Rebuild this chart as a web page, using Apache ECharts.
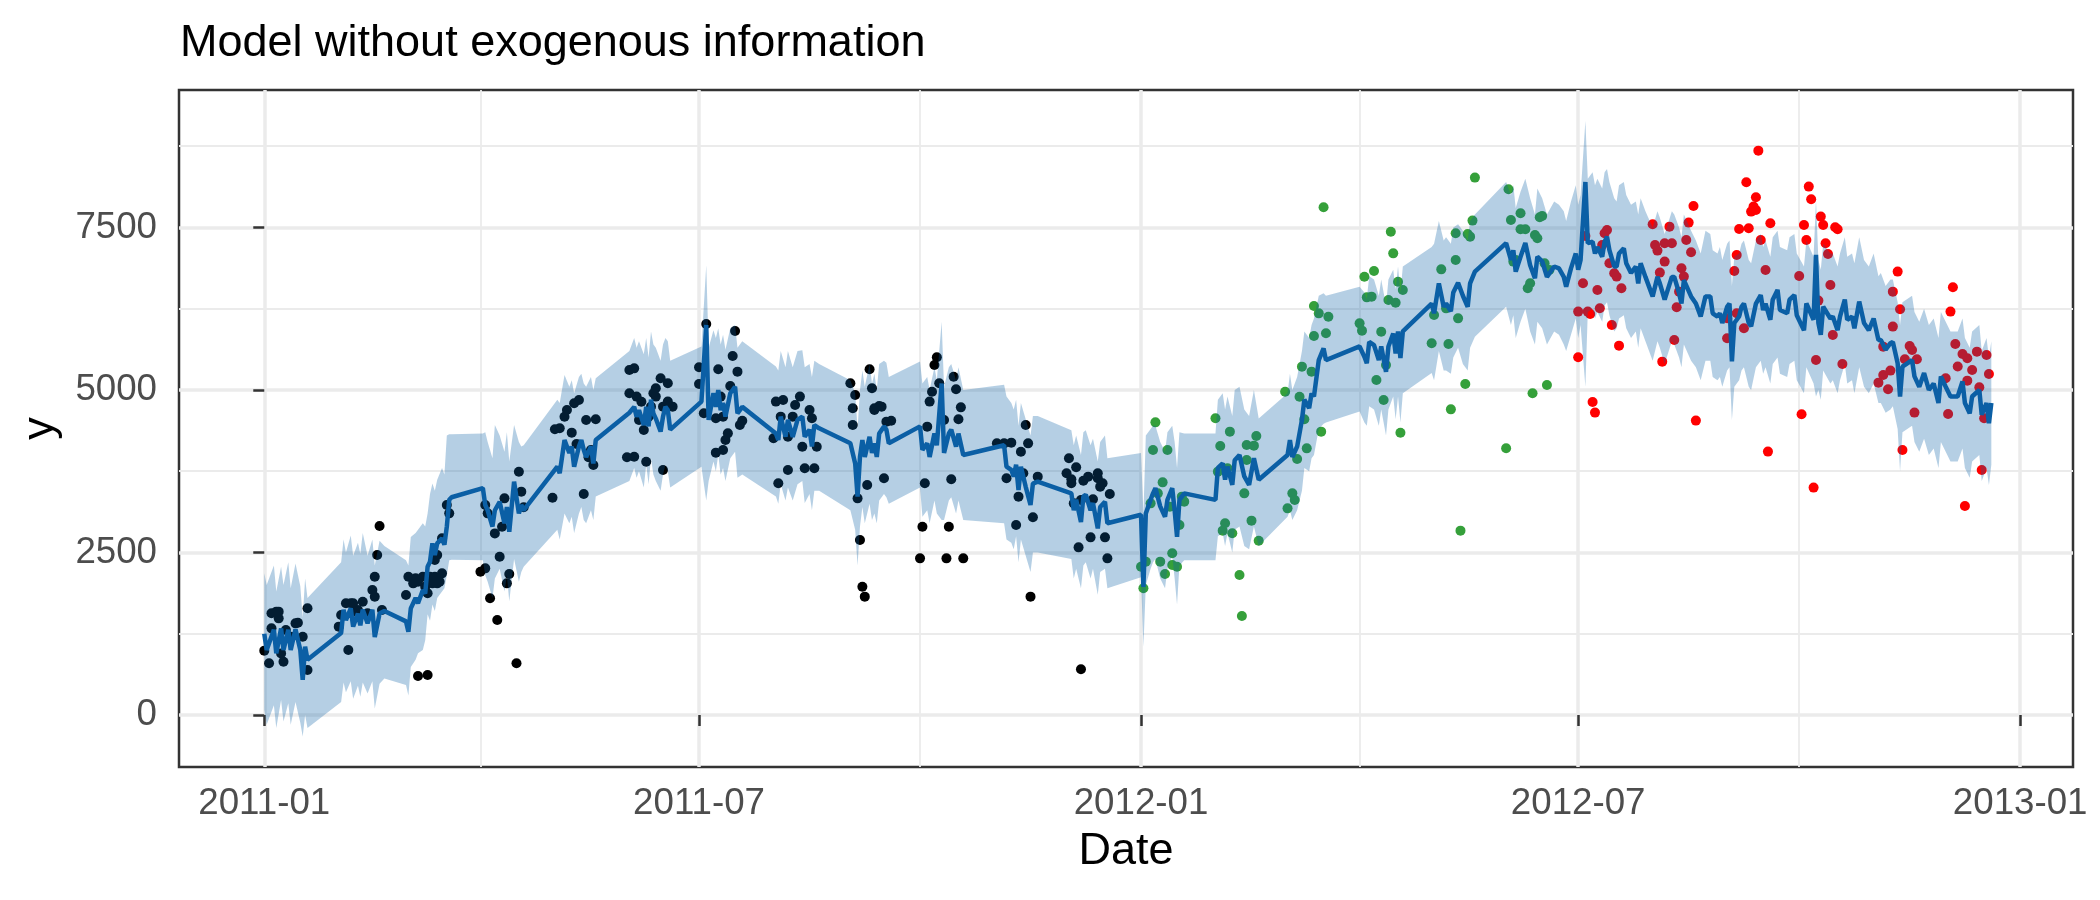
<!DOCTYPE html>
<html>
<head>
<meta charset="utf-8">
<title>Model without exogenous information</title>
<script src="https://cdn.jsdelivr.net/npm/echarts@6.0.0/dist/echarts.min.js"></script>
<style>
html, body { margin: 0; padding: 0; background: #ffffff; }
#chart { width: 2100px; height: 900px; }
</style>
</head>
<body>
<div id="chart"></div>
<script>
// x values are days counted from 2011-01-01

// fitted curve (yhat) with its uncertainty band
var fitDay = [
  0, 1, 4, 5, 7, 8, 10, 11, 13, 15, 16, 17, 18,
  32, 33, 34, 36, 37, 39, 40, 41, 43, 45, 46, 48, 50,
  59, 60, 61, 63, 64, 66, 67, 68, 69, 70, 71, 72, 74, 75, 76, 77, 78,
  91, 92, 93, 95, 96, 98, 100, 101, 102, 104, 106, 107, 108,
  122, 123, 125, 127, 128, 129, 131, 132, 133, 134, 136, 137, 138,
  152, 154, 155, 156, 158, 159, 160, 161, 162, 163, 165, 166, 167, 168, 169,
  182, 184, 185, 187, 188, 189, 190, 191, 192, 194, 196, 197, 199,
  213, 214, 215, 217, 218, 220, 222, 224, 225, 227, 228, 229, 231,
  244, 246, 247, 248, 249, 250, 252, 253, 254, 255, 256, 258, 259, 260,
  273, 274, 276, 277, 279, 280, 282, 283, 285, 286, 288, 289, 291,
  308, 309, 311, 312, 313, 314, 315, 317, 319, 320, 322,
  336, 337, 338, 340, 341, 342, 344, 345, 347, 348, 350, 351,
  365, 366, 367, 369, 370, 371, 373, 375, 376, 378, 379, 380, 381, 383,
  396, 397, 399, 400, 401, 403, 404, 406, 408, 410, 412, 414,
  426, 427, 428, 430, 432, 433, 435, 436, 437, 439, 441, 442,
  456, 458, 459, 460, 462, 464, 465, 467, 468, 470, 471, 472, 473, 474,
  486, 487, 489, 491, 492, 494, 495, 497, 499, 501, 502, 504,
  517, 519, 520, 521, 523, 525, 527, 529, 530, 532, 534, 537, 539, 541, 542, 544, 546, 547, 548,
  550, 551, 553, 554, 555, 557, 558, 559, 560, 562, 563, 564, 566, 567, 569, 571, 572, 573, 575,
  578, 580, 581, 583, 586, 587, 589, 590, 591, 594, 596, 598, 600, 602, 603, 605, 606, 607, 609, 610,
  611, 612, 614, 615, 616, 618, 619, 621, 623, 624, 625, 627, 628, 630, 631, 634, 635, 637, 638,
  641, 642, 645, 646, 647, 648, 649, 652, 653, 655, 656, 658, 659, 661, 662, 664, 666, 668, 670,
  672, 673, 675, 677, 678, 680, 681, 682, 686, 687, 689, 691, 693, 695, 697, 698, 700, 702,
  705, 707, 708, 710, 711, 714, 715, 717, 718, 719
];
var fitValue = [
  1250, 1000, 1310, 950, 1330, 1000, 1310, 1000, 1320, 1000, 540, 1050, 850,
  1260, 1620, 1460, 1640, 1360, 1560, 1380, 1620, 1410, 1620, 1200, 1560, 1600,
  1440, 1280, 1640, 1800, 1720, 1920, 1870, 2280, 2360, 2640, 2460, 2640, 2720, 2620, 2900, 3310, 3350,
  3490, 3230, 3150, 2900, 3150, 3280, 2950, 3200, 2820, 3590, 3100, 3230, 3150,
  3820, 3720, 4230, 4030, 4130, 3820, 4130, 4230, 4080, 3970, 4130, 3870, 4230,
  4650, 4740, 4590, 4690, 4460, 4740, 4440, 4850, 4640, 4560, 4360, 4590, 4740, 4690, 4390,
  4820, 6000, 4540, 4950, 4740, 5000, 4690, 4800, 4590, 4950, 5050, 4640, 4740,
  4330, 4230, 4590, 4280, 4540, 4280, 4540, 4590, 4280, 4390, 4130, 4460, 4410,
  4180, 3870, 3360, 3970, 4230, 3970, 4280, 4030, 4180, 3970, 4330, 4440, 4390, 4180,
  4440, 4080, 4180, 3970, 4330, 4150, 5100, 4030, 4330, 4390, 4130, 4330, 4000,
  4150, 3820, 3770, 3670, 3850, 3460, 3820, 3510, 3230, 3560, 3590,
  3410, 3150, 3310, 2970, 3360, 3390, 3150, 3260, 2870, 3200, 3280, 2950,
  3080, 1970, 3100, 3310, 3410, 3490, 3210, 3050, 3310, 3490, 3150, 2740, 3310, 3410,
  3310, 3800, 3870, 3620, 3820, 3540, 3920, 4000, 3670, 3540, 3950, 3620,
  4000, 4230, 3970, 4130, 4540, 4850, 4720, 4950, 4900, 5460, 5640, 5460,
  5670, 5510, 5410, 5740, 5690, 5460, 5670, 5280, 5670, 5870, 5560, 5900, 5490, 5900,
  6330, 6180, 6640, 6280, 6330, 6210, 6500, 6650, 6450, 6280, 6640, 6820,
  7260, 7000, 7150, 6820, 7050, 7260, 6920, 6720, 7050, 6980, 6740, 6900, 6870, 6740, 6590, 6870, 7100, 6850, 7000,
  8200, 7260, 7280, 7100, 7200, 7050, 7280, 7360, 7150, 6900, 6900, 7100, 7180, 6950, 6800, 6900, 6640, 6950, 6740,
  6440, 6740, 6640, 6390, 6740, 6740, 6490, 6330, 6690, 6440, 6330, 6130, 6440, 6440, 6180, 6130, 6180, 6030, 6280, 6330,
  5440, 6030, 6130, 6280, 6330, 6030, 5980, 6330, 6460, 6230, 6330, 6080, 6390, 6540, 6230, 6180, 6390, 6460, 6150,
  5920, 6330, 6080, 7080, 6030, 5850, 6280, 6100, 6130, 5920, 6130, 6390, 6080, 6130, 5950, 6360, 6030, 5920, 6100,
  5770, 5770, 5620, 5720, 5740, 5410, 4900, 5360, 5460, 5210, 5050, 5260, 5000, 5100, 4800, 5210, 5050, 4900,
  4900, 5130, 4800, 4640, 4900, 5000, 4620, 4800, 4490, 4800
];
var fitLower = [
  80, -150, 150, -200, 230, -100, 180, -150, 200, -120, -330, 0, -200,
  200, 500, 350, 520, 250, 450, 280, 500, 330, 520, 100, 480, 560,
  460, 300, 740, 850, 950, 1000, 1150, 1550, 1450, 1700, 1600, 1800, 1900, 1950, 2150, 2380, 2390,
  2380, 2150, 2050, 1800, 2100, 2250, 1900, 2150, 1750, 2400, 2050, 2200, 2280,
  2850, 2700, 3100, 2950, 3050, 2800, 3100, 3200, 3000, 2950, 3150, 3000, 3360,
  3600, 3800, 3650, 3750, 3500, 3850, 3550, 3950, 3700, 3600, 3450, 3700, 3850, 3750, 3500,
  3820, 3300, 3600, 3900, 3750, 4000, 3700, 3800, 3600, 3950, 4050, 3650, 3700,
  3360, 3250, 3550, 3300, 3500, 3300, 3550, 3600, 3260, 3400, 3150, 3450, 3450,
  3150, 2850, 2300, 2900, 3200, 2950, 3250, 3000, 3100, 2950, 3300, 3400, 3350, 3250,
  3500, 3050, 3150, 2950, 3300, 3100, 3000, 3000, 3300, 3350, 3100, 3300, 3000,
  2950, 2700, 2650, 2550, 2750, 2350, 2700, 2450, 2200, 2500, 2500,
  2400, 2100, 2250, 1950, 2300, 2350, 2100, 2250, 1850, 2200, 2250, 1950,
  2120, 1050, 2000, 2250, 2350, 2400, 2100, 1950, 2250, 2450, 2100, 1700, 2300, 2380,
  2380, 2750, 2800, 2600, 2800, 2500, 2850, 2900, 2600, 2550, 2900, 2600,
  3050, 3150, 3000, 3150, 3450, 3800, 3750, 3950, 4000, 4400, 4480, 4500,
  4670, 4500, 4450, 4750, 4700, 4450, 4700, 4300, 4700, 4900, 4550, 4900, 4500, 4950,
  5260, 5150, 5600, 5300, 5300, 5250, 5500, 5650, 5400, 5300, 5650, 5820,
  6280, 6000, 6150, 5800, 6050, 6250, 5900, 5700, 6050, 5950, 5700, 5900, 5850, 5700, 5600, 5850, 6100, 5800, 6000,
  5050, 6200, 6250, 6100, 6200, 6050, 6300, 6350, 6150, 5900, 5950, 6100, 6150, 5950, 5800, 5900, 5650, 5950, 5750,
  5450, 5750, 5650, 5400, 5750, 5700, 5500, 5350, 5700, 5450, 5350, 5150, 5450, 5450, 5200, 5150, 5200, 5050, 5300, 5350,
  4540, 5050, 5150, 5300, 5350, 5050, 5000, 5350, 5450, 5250, 5350, 5100, 5400, 5500, 5250, 5200, 5400, 5450, 5150,
  4950, 5350, 5100, 4900, 5000, 4850, 5300, 5100, 5150, 4950, 5150, 5400, 5100, 5150, 4950, 5350, 5050, 4950, 5100,
  4800, 4800, 4650, 4700, 4750, 4400, 3750, 4350, 4450, 4200, 4050, 4250, 4000, 4100, 3800, 4200, 4050, 3900,
  3900, 4100, 3800, 3650, 3900, 4000, 3600, 3800, 3540, 3850
];
var fitUpper = [
  2180, 2000, 2300, 1900, 2280, 2000, 2350, 1950, 2330, 1980, 1500, 2100, 1800,
  2350, 2700, 2500, 2760, 2450, 2650, 2480, 2800, 2450, 2700, 2300, 2680, 2600,
  2380, 2300, 2740, 2800, 2850, 2950, 2900, 3100, 3400, 3560, 3450, 3620, 3800, 3700, 4300, 4320, 4320,
  4330, 4350, 4200, 3950, 4460, 4300, 4050, 4350, 3900, 4460, 4200, 4130, 4150,
  4850, 4800, 5230, 5050, 5150, 4950, 5200, 5250, 5100, 5050, 5200, 5000, 5180,
  5600, 5800, 5650, 5750, 5550, 5800, 5500, 5900, 5700, 5650, 5450, 5700, 5800, 5750, 5450,
  5670, 6920, 5650, 5920, 5800, 5950, 5700, 5850, 5620, 5950, 6000, 5650, 5750,
  5360, 5300, 5600, 5350, 5600, 5350, 5600, 5610, 5350, 5400, 5200, 5450, 5400,
  5150, 4950, 4400, 5000, 5300, 5050, 5400, 5100, 5250, 5000, 5400, 5450, 5420, 5200,
  5440, 5100, 5200, 5000, 5350, 5150, 6050, 5050, 5350, 5400, 5150, 5350, 5000,
  5080, 4900, 4800, 4700, 4850, 4450, 4800, 4550, 4300, 4600, 4600,
  4380, 4150, 4300, 4000, 4350, 4380, 4150, 4250, 3900, 4200, 4300, 3950,
  4030, 3100, 4300, 4400, 4450, 4450, 4200, 4050, 4350, 4450, 4200, 3800, 4350, 4330,
  4330, 4850, 4950, 4700, 4900, 4600, 5000, 5050, 4700, 4600, 5000, 4560,
  4950, 5250, 5000, 5200, 5600, 5900, 5800, 6000, 6100, 6450, 6490, 6450,
  6590, 6500, 6400, 6750, 6700, 6450, 6700, 6300, 6700, 6850, 6550, 6900, 6500, 6900,
  7200, 7250, 7600, 7300, 7350, 7250, 7500, 7550, 7450, 7300, 7600, 7700,
  8200, 8000, 8150, 7800, 8050, 8250, 7950, 7700, 8100, 7950, 7700, 7900, 7850, 7750, 7600, 7900, 8150, 7850, 8000,
  9140, 8250, 8350, 8150, 8250, 8100, 8350, 8400, 8200, 7950, 7900, 8150, 8200, 8000, 7850, 7900, 7700, 7950, 7750,
  7500, 7750, 7650, 7400, 7750, 7700, 7500, 7350, 7700, 7450, 7300, 7100, 7450, 7400, 7150, 7100, 7200, 7000, 7250, 7300,
  6600, 7050, 7100, 7250, 7300, 7000, 6950, 7300, 7400, 7200, 7300, 7050, 7350, 7450, 7200, 7150, 7350, 7400, 7100,
  6900, 7300, 7050, 7920, 7000, 6850, 7250, 7100, 7100, 6900, 7100, 7350, 7050, 7100, 6950, 7350, 7000, 6900, 7100,
  6750, 6800, 6600, 6700, 6700, 6350, 6000, 6350, 6450, 6200, 6050, 6250, 6000, 6100, 5800, 6200, 6050, 5900,
  5900, 6100, 5800, 5650, 5900, 6000, 5600, 5800, 5500, 5750
];

// observed counts: [day, value]
var trainPoints = [
  [0,990],[2,795],[3,1333],[3,1564],[5,1590],[6,1590],[6,1487],[7,948],[8,820],[9,1307],[11,1205],[13,1410],[14,1420],[16,1205],[18,692],[18,1641],
  [31,1359],[32,1538],[34,1718],[35,1000],[36,1718],[37,1718],[38,1590],[39,1615],[41,1743],[43,1564],[45,1923],[46,1820],[46,2128],[47,2461],[48,2907],[49,1615],
  [59,1846],[60,2128],[62,2025],[63,2102],[64,2051],[64,600],[66,2128],[67,1974],[68,1872],[68,615],[69,2128],[70,2025],[71,2128],[71,2384],[72,2025],[72,2461],[73,2051],[74,2179],[74,2718],[76,3230],[77,3102],
  [90,2205],[92,2256],[92,3230],[93,3102],[94,1795],[96,2794],[97,1461],[98,2435],[99,2897],[100,3333],[101,2025],[102,2169],[105,795],[106,3743],[107,3436],[108,3195],
  [120,3343],[121,4395],[123,4410],[125,4589],[126,4692],[128,4344],[129,4795],[130,4169],[131,4846],[133,3400],[134,4538],[135,3964],[136,4077],[137,3846],[138,4549],[151,3964],[152,4949],[152,5307],
  [154,5333],[154,3974],[155,4898],[156,4539],[157,4820],[158,4385],[159,3897],[160,4590],[161,4744],[162,4949],[163,5026],[163,4898],[165,5180],[166,4744],[166,3769],[168,4821],[168,5103],[170,4744],
  [181,5349],[181,5093],[183,4641],[184,6016],[188,4564],[188,4036],[189,5318],[190,4898],[191,4590],[191,4077],[192,4231],[193,4333],[194,5062],[195,5523],[196,5908],[197,5282],[198,4462],[199,4528],
  [212,4257],[213,4821],[214,3564],[215,4590],[216,4846],[218,4282],[218,3769],[220,4590],[221,4769],[223,4898],[224,4128],[225,3795],[227,4692],[228,4564],[229,3795],[230,4128],
  [244,5103],[245,4718],[245,4462],[246,4923],[247,3333],[248,2692],[249,1974],[250,1821],[251,3538],[252,5318],[253,5026],[254,4692],[254,4718],[256,4754],[257,4744],[258,3641],[259,4513],[261,4528],
  [273,2410],[274,2897],[275,3564],[276,4436],[277,4821],[278,4974],[279,5385],[280,5503],[281,5103],[283,4538],[284,2410],[285,2897],[286,3626],[287,5205],[288,5010],[289,4549],[290,4733],[291,2410],
  [305,4179],[308,4179],[309,3641],[311,4190],[313,2923],[314,3359],[315,4051],[316,3718],[317,4462],[318,4179],[319,1821],[320,3041],[322,3667],
  [334,3718],[335,3949],[336,3626],[336,3564],[337,3256],[338,3810],[339,2579],[340,3308],[340,703],[341,3605],[343,3667],[344,2733],[345,3318],[347,3718],[347,3641],[348,3513],[349,3564],[350,2733],[351,2410],[352,3400]
];
var validPoints = [
  [365,2282],[366,1949],[367,2359],[369,3256],[370,4077],[371,4502],[372,3410],[373,2359],[374,3579],[375,2169],[376,4077],[377,3205],[378,2487],[378,2308],[380,2282],[381,2923],[382,3359],[383,3282],
  [396,4564],[397,3744],[398,4138],[399,2836],[400,2949],[401,3795],[402,4359],[403,2795],[406,2154],[407,1523],[408,3410],[409,4154],[409,3923],[411,2990],[412,4144],[413,4292],[414,2682],
  [425,4974],[426,3179],[428,3410],[429,3308],[430,3938],[431,4897],[432,5359],[433,4549],[434,4102],[436,5282],[437,6292],[437,5831],[439,6179],[440,4359],[441,7810],[442,5872],[443,6128],
  [456,6025],[457,5913],[458,6743],[459,6425],[461,6436],[462,6830],[463,5154],[465,5897],[466,4846],[467,5384],[468,6384],[469,7435],[470,7102],[471,6343],[472,6666],[473,4343],[474,6538],
  [486,5718],[487,6154],[490,6856],[492,6256],[493,5708],[494,4702],[496,6999],[496,7410],[497,6102],[498,2836],
  [500,5093],[501,7400],[502,7359],[503,7606],[504,8267],[517,4103],[518,8088],[519,7616],[520,6975],[521,7000],[523,7718],[523,7472],[525,7472],[526,6564],[527,6641],[528,4949],[529,7385],[530,7334],[531,7657],[532,7677],[533,6949],[534,5077],[535,6847]
];
var testPoints = [
  [547,6206],[547,5503],[549,6641],[550,7370],[551,6206],[552,6170],[553,4816],[554,4652],[555,6539],[556,6257],[557,7231],[558,7411],[559,7462],[560,6949],[561,6000],[562,6795],[563,6744],[564,5682],[565,6565],
  [578,7549],[579,7231],[580,7144],[581,6806],[582,5436],[583,7257],[583,6975],[585,7513],[586,7257],[587,5770],[588,6272],[589,6513],[590,6872],[591,6744],[592,7308],[593,7575],[594,7118],[595,7831],[596,4529],
  [609,6103],[609,5795],[612,6831],[613,7077],[613,6180],[614,7477],[616,5949],[617,8195],[618,7487],[619,7744],[620,7821],[621,7770],[621,7964],[622,8682],[623,7308],[625,6847],[626,4052],[627,7564],
  [639,6754],[640,4626],[641,7539],[642,7308],[643,8129],[644,7934],[645,3498],[646,5462],[647,6375],[648,7667],[649,7539],[650,7257],[651,7093],[652,6616],[653,5847],[654,7503],[655,7472],[657,5400],
  [672,5113],[674,5667],[674,5231],[676,5011],[677,5298],[678,6513],[678,5975],[680,6821],[681,6241],[682,4077],[683,5472],[685,5677],[686,5616],[687,4652],[688,5472],
  [700,5180],[701,4631],[702,6206],[703,6580],[704,5708],[705,5360],[707,5554],[708,3216],[709,5488],[709,5144],[711,5308],[713,5590],[714,5041],[715,3770],[716,4565],[717,5539],[718,5247]
];

// axis ticks
var xTickDays = [0, 181, 365, 547, 731];
var xTickLabels = ['2011-01', '2011-07', '2012-01', '2012-07', '2013-01'];
var xMinorDays = [90, 273, 456, 639];
var yTicks = [0, 2500, 5000, 7500];
var yMinorTicks = [1250, 3750, 6250, 8750];

var FONT = '"Liberation Sans", Arial, Helvetica, sans-serif';
var X_MIN = -35.5, X_MAX = 753;
var Y_MIN = -800, Y_MAX = 9615;
var FIT_COLOR = '#0B5FA5';
var BAND_COLOR = 'rgba(11,95,165,0.3)';

function zip(xs, ys) {
    return xs.map(function (x, i) { return [x, ys[i]]; });
}
var fitLine = zip(fitDay, fitValue);

// the band is one polygon: upper edge left to right, lower edge back
function renderBand(params, api) {
    if (params.dataIndex !== 0) {
        return null;
    }
    var points = [];
    for (var i = 0; i < fitDay.length; i++) {
        points.push(api.coord([fitDay[i], fitUpper[i]]));
    }
    for (var j = fitDay.length - 1; j >= 0; j--) {
        points.push(api.coord([fitDay[j], fitLower[j]]));
    }
    return {
        type: 'polygon',
        shape: { points: points },
        style: { fill: BAND_COLOR, stroke: null }
    };
}

var chart = echarts.init(document.getElementById('chart'));

var option = {
    animation: false,
    backgroundColor: '#ffffff',
    textStyle: { fontFamily: FONT },
    title: {
        text: 'Model without exogenous information',
        left: 175,
        top: 16,
        textStyle: { fontFamily: FONT, fontSize: 45, fontWeight: 'normal', color: '#000000' }
    },
    grid: {
        left: 179, right: 27, top: 90, bottom: 133,
        show: true,
        borderColor: '#333333',
        borderWidth: 2.5,
        backgroundColor: 'rgba(0,0,0,0)',
        outerBoundsMode: 'none'
    },
    xAxis: [{
        type: 'value',
        min: X_MIN, max: X_MAX,
        position: 'bottom',
        axisLine: { show: false },
        axisTick: { show: true, length: 11, customValues: xTickDays,
                    lineStyle: { color: '#333333', width: 2.5 } },
        axisLabel: {
            customValues: xTickDays,
            margin: 18,
            color: '#4D4D4D',
            fontSize: 36.7,
            fontFamily: FONT,
            formatter: function (v) {
                var i = xTickDays.indexOf(Math.round(v));
                return i >= 0 ? xTickLabels[i] : '';
            }
        },
        splitLine: { show: true, lineStyle: { color: '#EBEBEB', width: 3.5 } },
        name: 'Date',
        nameLocation: 'middle',
        nameGap: 62,
        nameTextStyle: { fontFamily: FONT, fontSize: 45, color: '#000000' }
    }, {
        type: 'value',
        min: X_MIN, max: X_MAX,
        position: 'top',
        axisLine: { show: false },
        axisTick: { show: false, customValues: xMinorDays },
        axisLabel: { show: false, customValues: xMinorDays },
        splitLine: { show: true, lineStyle: { color: '#EBEBEB', width: 1.8 } }
    }],
    yAxis: [{
        type: 'value',
        min: Y_MIN, max: Y_MAX,
        position: 'left',
        axisLine: { show: false },
        axisTick: { show: true, length: 11, customValues: yTicks,
                    lineStyle: { color: '#333333', width: 2.5 } },
        axisLabel: {
            customValues: yTicks,
            margin: 22,
            color: '#4D4D4D',
            fontSize: 36.7,
            fontFamily: FONT,
            formatter: function (v) { return String(v); }
        },
        splitLine: { show: true, lineStyle: { color: '#EBEBEB', width: 3.5 } },
        name: 'y',
        nameLocation: 'middle',
        nameGap: 116,
        nameTextStyle: { fontFamily: FONT, fontSize: 45, color: '#000000' }
    }, {
        type: 'value',
        min: Y_MIN, max: Y_MAX,
        position: 'right',
        axisLine: { show: false },
        axisTick: { show: false, customValues: yMinorTicks },
        axisLabel: { show: false, customValues: yMinorTicks },
        splitLine: { show: true, lineStyle: { color: '#EBEBEB', width: 1.8 } }
    }],
    series: [{
        name: 'train',
        type: 'scatter',
        z: 2,
        symbolSize: 10,
        itemStyle: { color: '#000000', opacity: 1 },
        data: trainPoints
    }, {
        name: 'validation',
        type: 'scatter',
        z: 2,
        symbolSize: 10,
        itemStyle: { color: '#35A03A', opacity: 1 },
        data: validPoints
    }, {
        name: 'test',
        type: 'scatter',
        z: 2,
        symbolSize: 10,
        itemStyle: { color: '#FF0000', opacity: 1 },
        data: testPoints
    }, {
        name: 'band',
        type: 'custom',
        z: 3,
        silent: true,
        clip: true,
        renderItem: renderBand,
        data: [[fitDay[0], fitLower[0]]]
    }, {
        name: 'yhat',
        type: 'line',
        z: 4,
        showSymbol: false,
        symbol: 'none',
        lineStyle: { color: FIT_COLOR, width: 4.5 },
        data: fitLine
    }]
};

chart.setOption(option);
</script>
</body>
</html>
